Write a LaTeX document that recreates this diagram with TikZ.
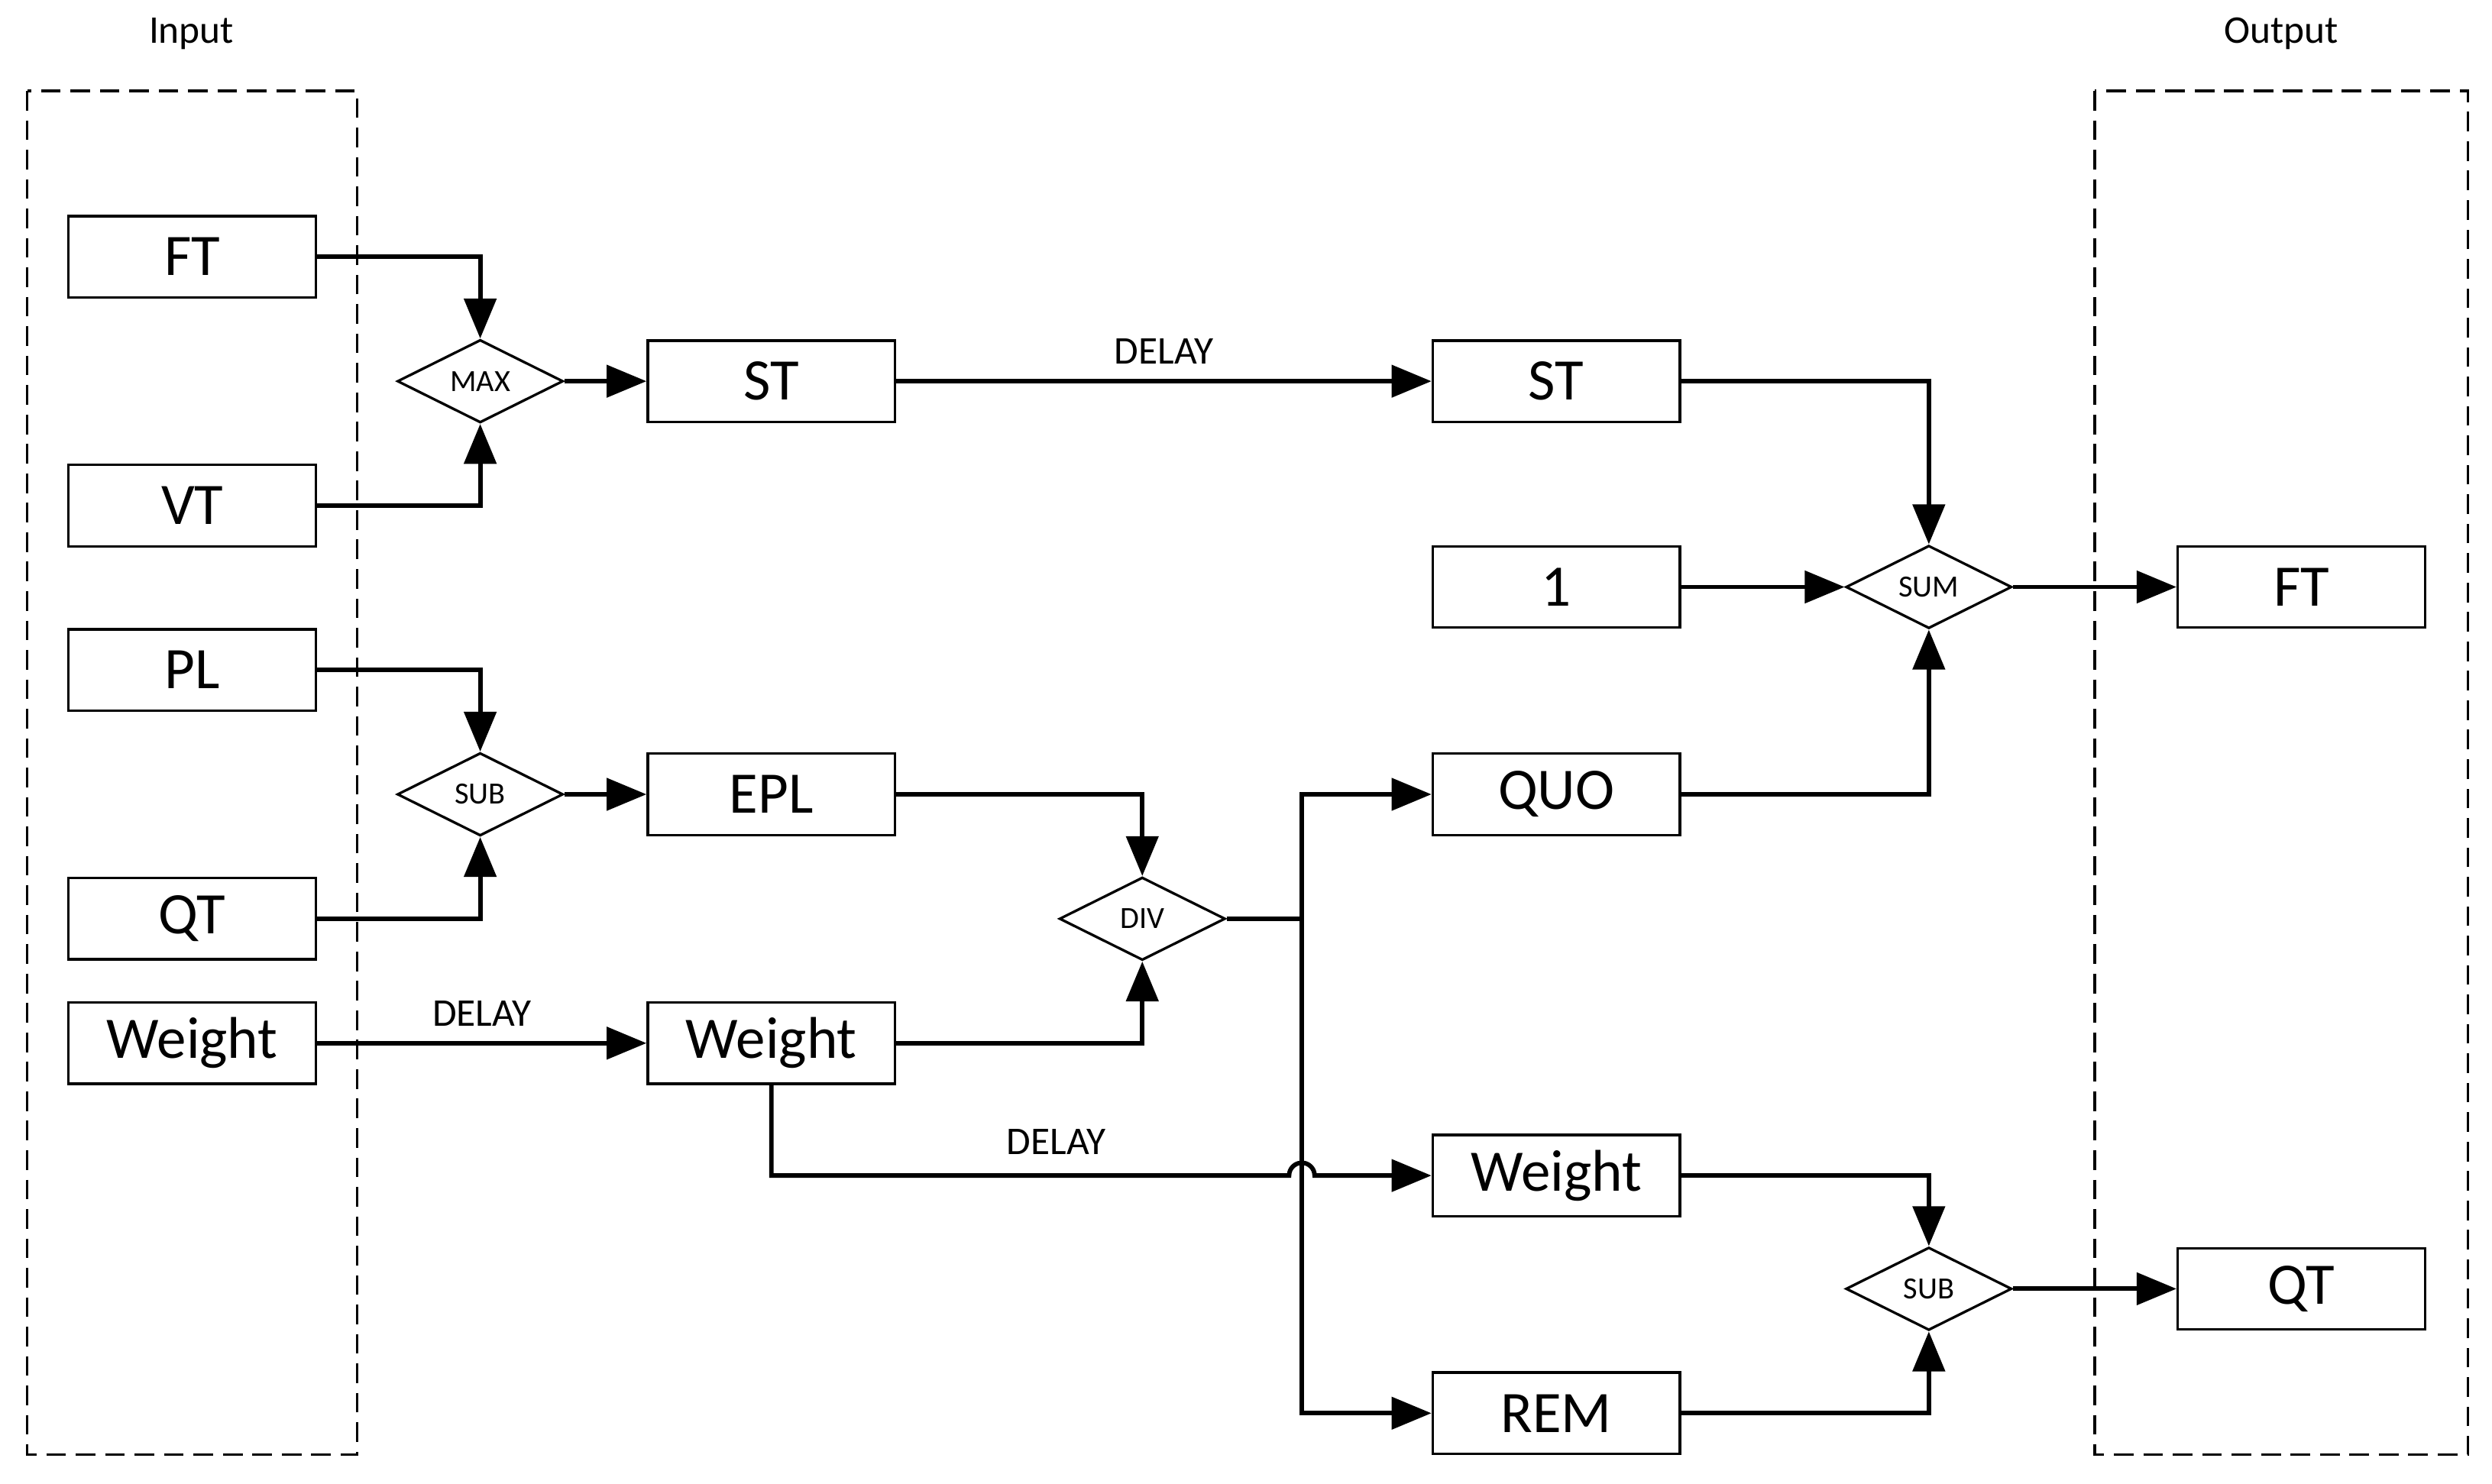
\documentclass[tikz,border=0pt]{standalone}
\usepackage{fontspec}
\setmainfont{Carlito}
\usetikzlibrary{shapes.geometric,arrows.meta}
\begin{document}
\begin{tikzpicture}[x=0.02cm,y=-0.02cm,
 box/.style={draw,line width=0.9pt,minimum width=3.1cm,minimum height=1.02cm,inner sep=0pt,font=\fontsize{21}{24}\selectfont},
 dia/.style={draw,diamond,line width=0.9pt,minimum width=2.08cm,minimum height=1.04cm,inner sep=0pt,font=\fontsize{11}{13}\selectfont},
 con/.style={line width=1.6pt},
 arr/.style={con,-{Triangle[length=0.5cm,width=0.4cm]}},
 dashbox/.style={draw,dash pattern=on 7pt off 3.5pt,line width=0.9pt},
 lab/.style={font=\fontsize{14}{16}\selectfont}]
\useasboundingbox (0,0) rectangle (1562,930);
\draw[dashbox] (17,57) rectangle (224,912);
\draw[dashbox] (1313,57) rectangle (1547,912);
\node[lab] (inl) at (120,21) {Input};
\node[lab] (outl) at (1430,21) {Output};
\node[box] (ft) at (120.5,161) {FT};
\node[box] (vt) at (120.5,317) {VT};
\node[box] (pl) at (120.5,420) {PL};
\node[box] (qt) at (120.5,576) {QT};
\node[box] (w) at (120.5,654) {Weight};
\node[dia] (max) at (301,239) {MAX};
\node[dia] (sub) at (301,498) {SUB};
\node[box] (st) at (483.5,239) {ST};
\node[box] (epl) at (483.5,498) {EPL};
\node[box] (w2) at (483.5,654) {Weight};
\node[dia] (div) at (716,576) {DIV};
\node[box] (st2) at (975.5,239) {ST};
\node[box] (one) at (975.5,368) {1};
\node[box] (quo) at (975.5,498) {QUO};
\node[box] (w3) at (975.5,737) {Weight};
\node[box] (rem) at (975.5,886) {REM};
\node[dia] (sum) at (1209,368) {SUM};
\node[dia] (sub2) at (1209,808) {SUB};
\node[box] (fto) at (1442.5,368) {FT};
\node[box] (qto) at (1442.5,808) {QT};
\coordinate (j) at (816,576);
\coordinate (hop) at (808,737);
\draw[arr] (ft.east) -| (max.north);
\draw[arr] (vt.east) -| (max.south);
\draw[arr] (max) -- (st);
\draw[arr] (st) -- node[lab,above,yshift=2pt]{DELAY} (st2);
\draw[arr] (st2.east) -| (sum.north);
\draw[arr] (one) -- (sum);
\draw[arr] (quo.east) -| (sum.south);
\draw[arr] (sum) -- (fto);
\draw[arr] (pl.east) -| (sub.north);
\draw[arr] (qt.east) -| (sub.south);
\draw[arr] (sub) -- (epl);
\draw[arr] (epl.east) -| (div.north);
\draw[arr] (w) -- node[lab,above,yshift=2pt]{DELAY} (w2);
\draw[arr] (w2.east) -| (div.south);
\draw[con] (div.east) -- (j);
\draw[arr] (j) |- (quo.west);
\draw[arr] (j) |- (rem.west);
\draw[arr] (w2.south) |- (hop) arc[start angle=180,end angle=0,radius=0.16cm] -- (w3.west);
\node[lab] (dl3) at (662,716) {DELAY};
\draw[arr] (w3.east) -| (sub2.north);
\draw[arr] (rem.east) -| (sub2.south);
\draw[arr] (sub2) -- (qto);
\end{tikzpicture}
\end{document}
